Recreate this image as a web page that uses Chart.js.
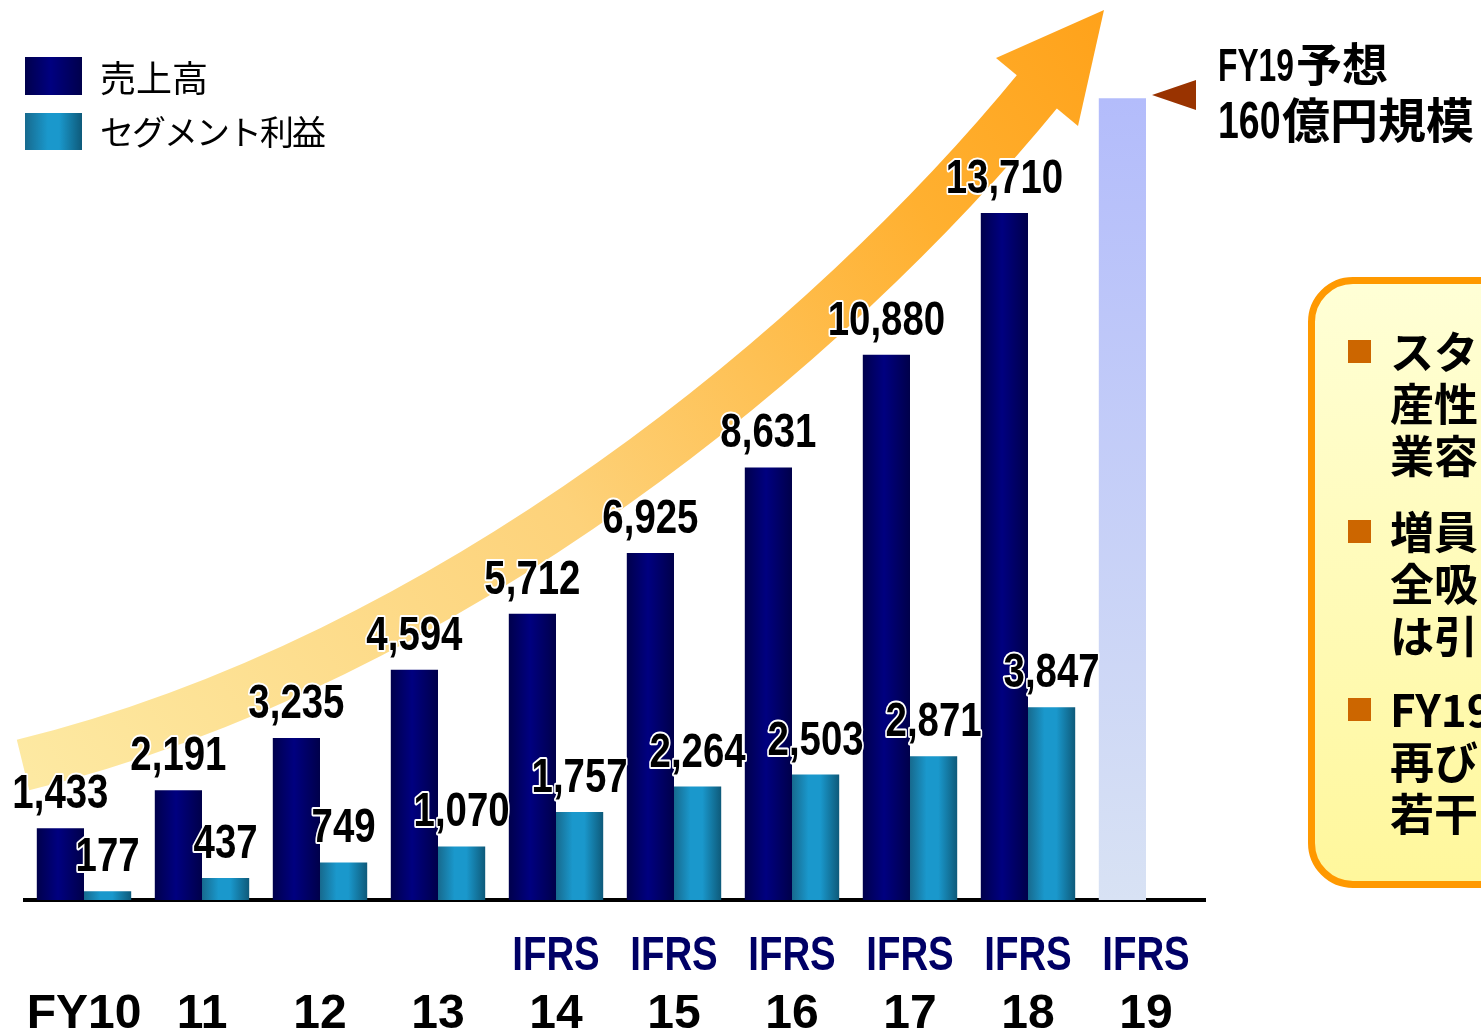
<!DOCTYPE html>
<html>
<head>
<meta charset="utf-8">
<script src="https://cdn.jsdelivr.net/npm/chart.js@4.4.1/dist/chart.umd.min.js"></script>
<style>
  html, body { margin:0; padding:0; background:#fff; overflow:hidden; }
  #wrap { position:relative; width:1481px; height:1036px; overflow:hidden; }
  canvas { position:absolute; left:0; top:0; }
  .sw { position:absolute; left:25px; width:57px; }
  .lt { position:absolute; left:100px; font-family:"Noto Sans CJK JP", sans-serif; color:#000; white-space:nowrap; line-height:1; }
  .fc { position:absolute; left:1218px; font-weight:bold; color:#000; white-space:nowrap; font-family:"Noto Sans CJK JP",sans-serif; line-height:1; }
  .nd { display:inline-block; transform-origin:left center; font-family:"Liberation Sans",Arial,sans-serif; overflow:visible; white-space:nowrap; }
  #tri { position:absolute; left:1152px; top:80px; width:0; height:0; border-top:15px solid transparent; border-bottom:15px solid transparent; border-right:44px solid #993300; }
  #box { position:absolute; left:1308px; top:277px; width:320px; height:597px; border:7px solid #ff9900; border-radius:45px; background:linear-gradient(#ffffd6, #fff79c); }
  .bl { position:absolute; left:33px; font-family:"Noto Sans CJK JP",sans-serif; font-weight:bold; font-size:44px; line-height:52px; color:#000; white-space:nowrap; }
  .bl .sq { position:absolute; left:0; top:16px; width:23px; height:23px; background:#cc6600; }
  .bl .tx { position:absolute; left:42px; top:0; }
</style>
</head>
<body>
<div id="wrap">
  <canvas id="c" width="1481" height="1036"></canvas>
  <div class="sw" style="top:57px;height:38px;background:linear-gradient(to right,#00004c,#000080 45%,#00004c);"></div>
  <div class="lt" style="top:58px;font-size:36px;">売上高</div>
  <div class="sw" style="top:113px;height:37px;background:linear-gradient(to right,#176a8e,#1a98cc 40%,#1a98cc 60%,#0e5a7a);"></div>
  <div class="lt" style="top:114px;font-size:34px;letter-spacing:-2px;">セグメント利益</div>
  <div id="tri"></div>
  <div class="fc" style="top:38px;font-size:46px;"><span class="nd" style="width:78px;transform:scaleX(0.69);">FY19</span>予想</div>
  <div class="fc" style="top:93px;font-size:48px;"><span class="nd" style="width:64px;font-size:52px;transform:scaleX(0.72);">160</span>億円規模</div>
  <div id="box">
    <div class="bl" style="top:40px;"><div class="sq"></div><div class="tx">スタッフ<br>産性<br>業容</div></div>
    <div class="bl" style="top:220px;"><div class="sq"></div><div class="tx">増員<br>全吸<br>は引</div></div>
    <div class="bl" style="top:398px;"><div class="sq"></div><div class="tx">FY19<br>再び<br>若干</div></div>
  </div>
</div>
<script>
// ---- data ----
const categories = ['FY10','11','12','13','14','15','16','17','18','19'];
const ifrsLabels = ['','','','','IFRS','IFRS','IFRS','IFRS','IFRS','IFRS'];
const sales  = [1433, 2191, 3235, 4594, 5712, 6925, 8631, 10880, 13710, 16000];
const profit = [177, 437, 749, 1070, 1757, 2264, 2503, 2871, 3847, null];
const isForecast = [false,false,false,false,false,false,false,false,false,true];
const seriesNames = ['売上高', 'セグメント利益'];

const CAT_PCT = 0.8;
const NARROW = 0.8;
const BOLD48 = 'bold 48px "Liberation Sans",Arial,sans-serif';

function barSpan(chart, index, dsIndex) {
  const xs = chart.scales.x;
  const n = categories.length;
  const cw = (chart.chartArea.right - chart.chartArea.left) / n;
  const bw = cw * CAT_PCT / 2;
  const c = xs.getPixelForValue(index);
  return dsIndex === 0 ? [c - bw, c] : [c, c + bw];
}

function navyFill(ctx) {
  const chart = ctx.chart;
  if (!chart.chartArea || ctx.type !== 'data') return '#000080';
  const i = ctx.dataIndex;
  const c2 = chart.ctx;
  if (isForecast[i]) {
    const ys = chart.scales.y;
    const top = ys.getPixelForValue(sales[i]);
    const g = c2.createLinearGradient(0, top, 0, ys.getPixelForValue(0));
    g.addColorStop(0, '#b3bcfb');
    g.addColorStop(1, '#d8e2f4');
    return g;
  }
  const [l, r] = barSpan(chart, i, 0);
  const g = c2.createLinearGradient(l, 0, r, 0);
  g.addColorStop(0, '#00004c');
  g.addColorStop(0.45, '#000080');
  g.addColorStop(1, '#00004a');
  return g;
}
function tealFill(ctx) {
  const chart = ctx.chart;
  if (!chart.chartArea || ctx.type !== 'data') return '#1a98cc';
  const [l, r] = barSpan(chart, ctx.dataIndex, 1);
  const g = chart.ctx.createLinearGradient(l, 0, r, 0);
  g.addColorStop(0, '#176a8e');
  g.addColorStop(0.35, '#1a98cc');
  g.addColorStop(0.6, '#1a98cc');
  g.addColorStop(1, '#0e5a7a');
  return g;
}

function narrowText(ctx, txt, x, y, halo) {
  ctx.save();
  ctx.translate(x, y);
  ctx.scale(NARROW, 1);
  if (halo) {
    ctx.strokeStyle = '#fff';
    ctx.lineWidth = 4;
    ctx.lineJoin = 'round';
    ctx.strokeText(txt, 0, 0);
  }
  ctx.fillText(txt, 0, 0);
  ctx.restore();
}

const arrowPlugin = {
  id: 'arrow',
  beforeDatasetsDraw(chart) {
    const ctx = chart.ctx;
    const a = chart.chartArea;
    const X = v => a.left + v, Y = v => a.top + v;
    ctx.save();
    const g = ctx.createLinearGradient(X(-2), Y(765), X(1079), Y(10));
    g.addColorStop(0, '#fde9a2');
    g.addColorStop(0.45, '#fdd27a');
    g.addColorStop(0.8, '#ffb030');
    g.addColorStop(1, '#ffa21a');
    ctx.strokeStyle = g;
    ctx.fillStyle = g;
    ctx.lineWidth = 52;
    ctx.lineCap = 'butt';
    ctx.beginPath();
    ctx.moveTo(X(-2), Y(765));
    ctx.bezierCurveTo(X(425), Y(660), X(805), Y(345), X(1015), Y(88));
    ctx.stroke();
    ctx.beginPath();
    ctx.moveTo(X(971), Y(58));
    ctx.lineTo(X(1079), Y(10));
    ctx.lineTo(X(1053), Y(126));
    ctx.closePath();
    ctx.fill();
    ctx.restore();
  }
};

const labelPlugin = {
  id: 'vlabels',
  afterDatasetsDraw(chart) {
    const ctx = chart.ctx;
    ctx.save();
    ctx.font = BOLD48;
    ctx.textAlign = 'center';
    ctx.textBaseline = 'alphabetic';
    ctx.fillStyle = '#000';
    chart.data.datasets.forEach((ds, di) => {
      const meta = chart.getDatasetMeta(di);
      meta.data.forEach((el, i) => {
        const v = ds.data[i];
        if (v == null || isForecast[i]) return;
        narrowText(ctx, v.toLocaleString('en-US'), el.x, el.y - 20, true);
      });
    });
    // IFRS row, positioned by the x2 category axis
    const s = chart.scales.x2;
    ctx.fillStyle = '#000066';
    ifrsLabels.forEach((t, i) => {
      if (!t) return;
      narrowText(ctx, t, s.getPixelForValue(i), s.top + 70, false);
    });
    ctx.restore();
  }
};

new Chart(document.getElementById('c'), {
  type: 'bar',
  data: {
    labels: categories,
    datasets: [
      { label: seriesNames[0], data: sales, backgroundColor: navyFill, borderWidth: 0,
        categoryPercentage: CAT_PCT, barPercentage: 1.0 },
      { label: seriesNames[1], data: profit, backgroundColor: tealFill, borderWidth: 0,
        categoryPercentage: CAT_PCT, barPercentage: 1.0 }
    ]
  },
  options: {
    responsive: false,
    animation: false,
    layout: { padding: { left: 25, right: 276, top: 0, bottom: 0 } },
    plugins: { legend: { display: false }, tooltip: { enabled: false } },
    scales: {
      y: { display: false, min: 0, max: 17960 },
      x2: {
        type: 'category', labels: ifrsLabels, position: 'bottom', weight: 0, offset: true,
        grid: { display: false, drawTicks: false },
        border: { display: true, color: '#000', width: 4 },
        ticks: { display: false },
        afterFit(s) { s.height = 78; }
      },
      x: {
        type: 'category', position: 'bottom', weight: 1, offset: true,
        grid: { display: false, drawTicks: false },
        border: { display: false },
        ticks: { color: '#000', autoSkip: false, maxRotation: 0, padding: 13,
                 font: { family: '"Liberation Sans",Arial,sans-serif', size: 48, weight: 'bold', lineHeight: 1 } },
        afterFit(s) { s.height = 58; }
      }
    }
  },
  plugins: [arrowPlugin, labelPlugin]
});
</script>
</body>
</html>
